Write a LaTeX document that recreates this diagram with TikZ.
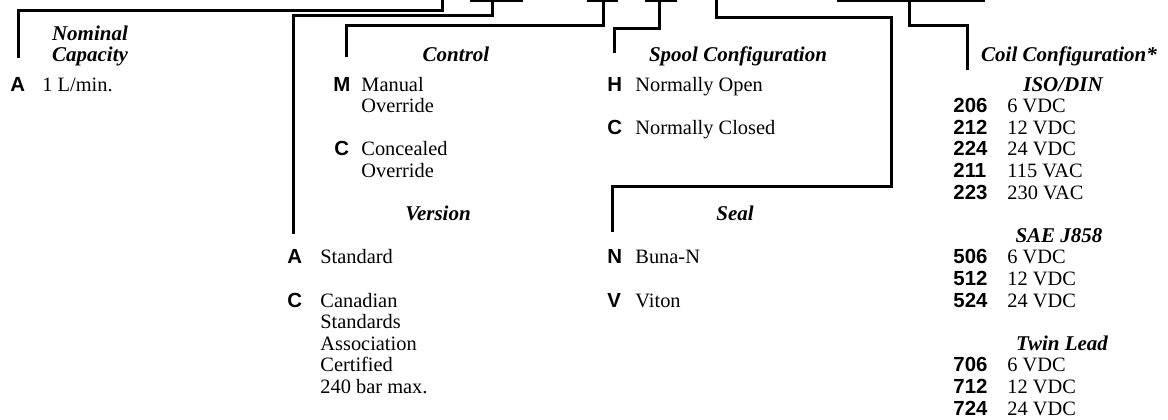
\documentclass[tikz,border=0pt]{standalone}
\usepackage{fontspec}
\setmainfont{Liberation Serif}
\newfontfamily\codefont{Liberation Sans}
\tikzset{
  px/.style={x=0.5pt,y=-0.5pt},
  lead/.style={line width=1.5pt,line join=miter,line cap=butt},
  strip/.style={fill=black,draw=none},
  hd/.style={anchor=base,inner sep=0pt,font=\fontsize{10.5}{10.8}\selectfont\bfseries\itshape},
  code/.style={anchor=base west,inner sep=0pt,font=\fontsize{10.2}{10.8}\selectfont\codefont\bfseries},
  txt/.style={anchor=base west,inner sep=0pt,font=\fontsize{10.2}{10.8}\selectfont}
}
\begin{document}
\begin{tikzpicture}[px]
\useasboundingbox (0,0) rectangle (1168,419);
% top strips
\fill[strip] (470,0) rectangle (523,1.7);
\fill[strip] (587,0) rectangle (618,1.7);
\fill[strip] (645,0) rectangle (677,1.7);
\fill[strip] (837,0) rectangle (985,1.7);
% connector end points
\coordinate (t1) at (442,0);   \coordinate (e1) at (18,58);
\coordinate (t2) at (492,0);   \coordinate (e2) at (293.5,234);
\coordinate (t3) at (603,0);   \coordinate (e3) at (346,57);
\coordinate (t4) at (659.5,0); \coordinate (e4) at (614,53);
\coordinate (t5) at (716.5,0); \coordinate (e5) at (612,232);
\coordinate (t6) at (909,0);   \coordinate (e6) at (967,70);
\draw[lead] (e1) |- (442,10) -- (t1);
\draw[lead] (e2) |- (492,15) -- (t2);
\draw[lead] (e3) |- (603,25) -- (t3);
\draw[lead] (e4) |- (659.5,28) -- (t4);
\draw[lead] (e5) |- (891,186) |- (716.5,17.5) -- (t5);
\draw[lead] (e6) |- (909,25) -- (t6);
% Nominal capacity
\node[hd] (nomA) at (90,40) {Nominal};
\node[hd] (nomB) at (90,61) {Capacity};
\node[code] (cA) at (10,91) {A};
\node[txt] (tA) at (42,91) {1 L/min.};
% Control
\node[hd] (ctl) at (456,61) {Control};
\node[code] (cM) at (333,91) {M};
\node[txt] (tM1) at (361,91) {Manual};
\node[txt] (tM2) at (361,112.6) {Override};
\node[code] (cC) at (334,155.8) {C};
\node[txt] (tC1) at (361,155.8) {Concealed};
\node[txt] (tC2) at (361,177.4) {Override};
% Version
\node[hd] (ver) at (438,220.6) {Version};
\node[code] (vA) at (287,263.8) {A};
\node[txt] (vtA) at (320,263.8) {Standard};
\node[code] (vC) at (287,307) {C};
\node[txt] (vt1) at (320,307) {Canadian};
\node[txt] (vt2) at (320,328.6) {Standards};
\node[txt] (vt3) at (320,350.2) {Association};
\node[txt] (vt4) at (320,371.8) {Certified};
\node[txt] (vt5) at (320,393.4) {240 bar max.};
% Spool
\node[hd] (spl) at (738,61) {Spool Configuration};
\node[code] (sH) at (607,91) {H};
\node[txt] (stH) at (635,91) {Normally Open};
\node[code] (sC) at (607,134.2) {C};
\node[txt] (stC) at (635,134.2) {Normally Closed};
% Seal
\node[hd] (seal) at (735,220.6) {Seal};
\node[code] (eN) at (607,263.8) {N};
\node[txt] (etN) at (635,263.8) {Buna-N};
\node[code] (eV) at (607,307) {V};
\node[txt] (etV) at (635,307) {Viton};
% Coil
\node[hd] (coil) at (1069,61) {Coil Configuration*};
\node[hd] (iso) at (1063,91) {ISO/DIN};
\node[code] (k206) at (953,112.6) {206}; \node[txt] (v206) at (1007,112.6) {6 VDC};
\node[code] (k212) at (953,134.2) {212}; \node[txt] (v212) at (1007,134.2) {12 VDC};
\node[code] (k224) at (953,155.8) {224}; \node[txt] (v224) at (1007,155.8) {24 VDC};
\node[code] (k211) at (953,177.4) {211}; \node[txt] (v211) at (1007,177.4) {115 VAC};
\node[code] (k223) at (953,199) {223}; \node[txt] (v223) at (1007,199) {230 VAC};
\node[hd] (sae) at (1059,242.2) {SAE J858};
\node[code] (k506) at (953,263.8) {506}; \node[txt] (v506) at (1007,263.8) {6 VDC};
\node[code] (k512) at (953,285.4) {512}; \node[txt] (v512) at (1007,285.4) {12 VDC};
\node[code] (k524) at (953,307) {524}; \node[txt] (v524) at (1007,307) {24 VDC};
\node[hd] (twin) at (1062,350.2) {Twin Lead};
\node[code] (k706) at (953,371.8) {706}; \node[txt] (v706) at (1007,371.8) {6 VDC};
\node[code] (k712) at (953,393.4) {712}; \node[txt] (v712) at (1007,393.4) {12 VDC};
\node[code] (k724) at (953,415) {724}; \node[txt] (v724) at (1007,415) {24 VDC};
\end{tikzpicture}
\end{document}
